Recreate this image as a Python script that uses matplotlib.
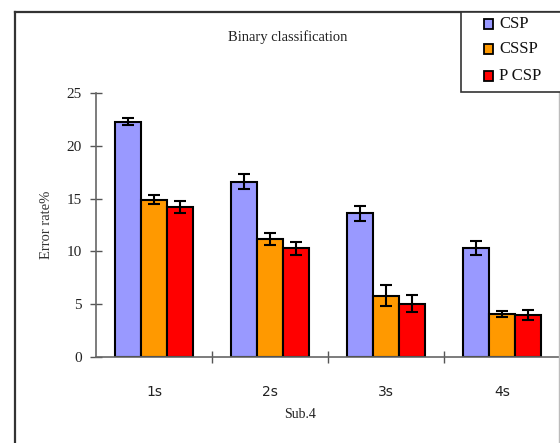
import matplotlib
matplotlib.use("Agg")
import matplotlib.pyplot as plt
import numpy as np
from matplotlib.patches import Rectangle
from matplotlib.lines import Line2D

categories = ["1s", "2s", "3s", "4s"]
series = ["CSP", "CSSP", "P CSP"]
csp = [22.3, 16.6, 13.6, 10.35]
cssp = [14.9, 11.2, 5.8, 4.1]
pcsp = [14.2, 10.3, 5.05, 4.0]
csp_err = [0.35, 0.7, 0.7, 0.65]
cssp_err = [0.4, 0.55, 1.0, 0.3]
pcsp_err = [0.6, 0.6, 0.8, 0.45]
colors = ["#9999FF", "#FF9900", "#FF0000"]

serif = ["Liberation Serif", "DejaVu Serif"]

W, H = 560, 443
fig = plt.figure(figsize=(W / 100, H / 100), dpi=100)
fig.patch.set_facecolor("white")


def px(xp, yp):
    return xp / W, 1 - yp / H


# outer frame: left and top dark, right light grey
fig.add_artist(Line2D([15 / W, 15 / W], [1 - 12 / H, -0.01],
                      transform=fig.transFigure, color="#333333", lw=1.6))
fig.add_artist(Line2D([15 / W, 559 / W], [1 - 12 / H, 1 - 12 / H],
                      transform=fig.transFigure, color="#333333", lw=1.6))
fig.add_artist(Line2D([559 / W, 559 / W], [1 - 12 / H, -0.01],
                      transform=fig.transFigure, color="#BBBBBB", lw=1.0))

ax = fig.add_axes([96 / W, (H - 357) / H, (560 - 96) / W, 264 / H])
x = np.arange(len(categories))
bw = 0.222
vals = [csp, cssp, pcsp]
errs = [csp_err, cssp_err, pcsp_err]
for i, (v, e, c, name) in enumerate(zip(vals, errs, colors, series)):
    ax.bar(x + (i - 1) * bw, v, width=bw, color=c, edgecolor="black",
           linewidth=1.5, label=name, zorder=2)
    ax.errorbar(x + (i - 1) * bw, v, yerr=e, fmt="none", ecolor="black",
                elinewidth=1.5, capsize=4.3, capthick=1.5, zorder=3)

ax.set_xlim(-0.5, 3.5)
ax.set_ylim(0, 25)
ax.set_yticks([0, 5, 10, 15, 20, 25])
ax.set_xticks(x)
ax.set_xticklabels(categories, fontsize=10, color="#222222")
ax.set_xticks(np.arange(0.5, 3.5, 1), minor=True)
ax.tick_params(axis="x", which="major", length=0, pad=20)
ax.tick_params(axis="x", which="minor", length=9, direction="inout",
               color="#555555", width=1)
ax.tick_params(axis="y", length=8, direction="inout", color="#555555",
               width=1, labelsize=11, pad=6)
for lab in ax.get_yticklabels():
    lab.set_family(serif)
    lab.set_color("#222222")
for s in ["top", "right"]:
    ax.spines[s].set_visible(False)
for s in ["left", "bottom"]:
    ax.spines[s].set_color("#666666")
    ax.spines[s].set_linewidth(1.2)
ax.patch.set_alpha(0)

fig.text(*px(288, 37), "Binary classification", ha="center",
         va="center", family=serif, fontsize=10.5, color="#222222")
fig.text(*px(46, 225), "Error rate%", ha="center", va="center",
         rotation=90, family=serif, fontsize=10.5, color="#333333")
fig.text(*px(300, 415), "Sub.4", ha="center", va="center",
         family=serif, fontsize=10, color="#222222")

# legend box (extends beyond the right edge as in the reference)
lx0, ly0, lx1, ly1 = 461, 12, 600, 92
fig.patches.append(Rectangle((lx0 / W, 1 - ly1 / H), (lx1 - lx0) / W,
                             (ly1 - ly0) / H, transform=fig.transFigure,
                             facecolor="white", edgecolor="#333333",
                             linewidth=1.2, zorder=5))
rows_y = [24, 49, 76]
sq = 9
for c, name, ry in zip(colors, series, rows_y):
    fig.patches.append(Rectangle(((488 - sq / 2) / W, 1 - (ry + sq / 2) / H),
                                 sq / W, sq / H, transform=fig.transFigure,
                                 facecolor=c, edgecolor="black",
                                 linewidth=1.3, zorder=6))
    fig.text(*px(499, ry), name, ha="left", va="center", family=serif,
             fontsize=12, color="#111111", zorder=6)

fig.savefig("out.png", dpi=100, facecolor="white")
